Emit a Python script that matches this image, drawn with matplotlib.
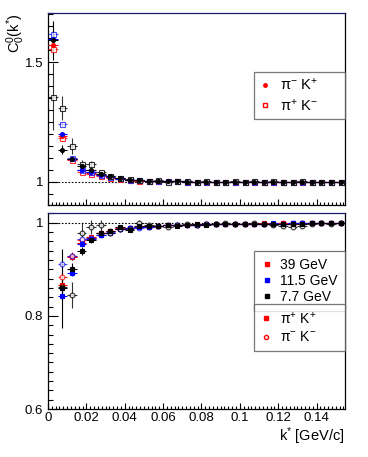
import numpy as np
import matplotlib.pyplot as plt
from matplotlib.lines import Line2D
from matplotlib.ticker import MultipleLocator

plt.rcParams['font.family'] = ['Liberation Sans', 'DejaVu Sans']
plt.rcParams['mathtext.fontset'] = 'custom'
plt.rcParams['mathtext.rm'] = 'Liberation Sans'
plt.rcParams['mathtext.it'] = 'Liberation Sans:italic'

# k* bin centres [GeV/c]
k_top = [0.0025 + 0.005 * i for i in range(31)]
k_bot = k_top[1:]

# top panel: unlike-sign pairs (filled = pi- K+, open = pi+ K-)
red_pmkp = [1.572, 1.192, 1.095, 1.048, 1.036, 1.027, 1.019, 1.013, 1.009, 1.006, 1.004,
            1.003, 1.003, 1.002, 1.002, 1.001, 1.001, 1.001, 1.000, 1.001, 1.000, 1.000,
            1.001, 1.000, 1.000, 1.000, 1.000, 1.000, 1.000, 1.000, 1.000]
red_ppkm = [1.556, 1.185, 1.092, 1.042, 1.032, 1.024, 1.017, 1.012, 1.008, 1.005, 1.004,
            1.003, 1.002, 1.002, 1.001, 1.001, 1.001, 1.000, 1.000, 1.000, 1.000, 1.000,
            1.000, 1.000, 1.000, 1.000, 1.000, 1.000, 1.000, 1.000, 1.000]
blue_pmkp = [1.598, 1.198, 1.097, 1.050, 1.040, 1.028, 1.020, 1.014, 1.010, 1.007, 1.005,
             1.003, 1.003, 1.002, 1.002, 1.001, 1.001, 1.000, 1.001, 1.000, 1.000, 1.000,
             1.000, 1.000, 1.000, 1.000, 1.000, 0.999, 1.000, 1.000, 1.000]
blue_ppkm = [1.618, 1.240, 1.098, 1.052, 1.042, 1.030, 1.022, 1.015, 1.010, 1.007, 1.004,
             1.003, 1.002, 1.002, 1.001, 1.001, 1.000, 1.000, 1.000, 1.001, 0.999, 1.000,
             0.999, 1.000, 1.000, 1.000, 0.999, 1.000, 1.000, 1.000, 0.999]
black_pmkp = [1.590, 1.135, 1.097, 1.066, 1.050, 1.033, 1.024, 1.015, 1.010, 1.008, 1.005,
              1.003, 1.002, 1.003, 1.001, 1.001, 1.001, 1.000, 1.001, 1.000, 1.001, 1.000,
              1.000, 1.001, 1.000, 1.000, 1.000, 1.001, 1.000, 1.000, 1.000]
black_ppkm = [1.355, 1.307, 1.150, 1.075, 1.075, 1.040, 1.024, 1.015, 1.012, 1.010, 1.004,
              1.007, 1.000, 1.002, 1.004, 0.998, 1.003, 1.001, 1.001, 1.002, 0.999, 1.002,
              1.001, 1.003, 0.999, 1.001, 1.002, 1.000, 0.999, 1.001, 1.000]
err_top_small = [0.012, 0.008, 0.006, 0.005, 0.004, 0.003, 0.003, 0.002, 0.002, 0.002, 0.002,
                 0.002, 0.002, 0.002, 0.002, 0.002, 0.002, 0.002, 0.002, 0.002, 0.002, 0.002,
                 0.002, 0.002, 0.002, 0.002, 0.002, 0.002, 0.002, 0.002, 0.002]
err_black_pmkp = [0.080, 0.020, 0.010, 0.008, 0.006, 0.005, 0.004, 0.003, 0.003, 0.003, 0.003,
                  0.003, 0.003, 0.003, 0.003, 0.003, 0.003, 0.003, 0.003, 0.003, 0.003, 0.003,
                  0.003, 0.003, 0.003, 0.003, 0.003, 0.003, 0.003, 0.003, 0.003]
err_black_ppkm = [0.140, 0.050, 0.035, 0.018, 0.012, 0.008, 0.006, 0.005, 0.004, 0.004, 0.004,
                  0.004, 0.004, 0.004, 0.004, 0.004, 0.004, 0.004, 0.004, 0.004, 0.004, 0.004,
                  0.004, 0.004, 0.004, 0.004, 0.004, 0.004, 0.004, 0.004, 0.004]

# bottom panel: like-sign pairs (filled = pi+ K+, open = pi- K-)
red_ppkp = [0.866, 0.927, 0.956, 0.970, 0.979, 0.983, 0.989, 0.989, 0.991, 0.993, 0.994,
            0.995, 0.996, 0.996, 0.997, 0.997, 0.997, 0.998, 0.998, 0.998, 0.998, 0.999,
            0.998, 0.999, 0.999, 0.999, 0.999, 0.999, 0.999, 0.999]
red_pmkm = [0.884, 0.929, 0.963, 0.968, 0.977, 0.982, 0.988, 0.988, 0.990, 0.992, 0.994,
            0.995, 0.995, 0.996, 0.996, 0.997, 0.997, 0.997, 0.998, 0.998, 0.998, 0.998,
            0.998, 0.999, 0.998, 0.999, 0.999, 0.999, 0.999, 0.999]
blue_ppkp = [0.843, 0.893, 0.955, 0.965, 0.974, 0.979, 0.987, 0.988, 0.990, 0.992, 0.993,
             0.995, 0.995, 0.996, 0.996, 0.997, 0.997, 0.998, 0.997, 0.998, 0.998, 0.998,
             0.999, 0.998, 0.999, 0.999, 0.999, 0.999, 0.999, 0.999]
blue_pmkm = [0.911, 0.928, 0.966, 0.967, 0.973, 0.981, 0.987, 0.988, 0.988, 0.992, 0.993,
             0.995, 0.995, 0.995, 0.996, 0.997, 0.997, 0.997, 0.998, 0.998, 0.998, 0.998,
             0.998, 0.998, 0.999, 0.999, 0.999, 0.999, 0.999, 0.999]
black_ppkp = [0.859, 0.901, 0.939, 0.962, 0.978, 0.982, 0.991, 0.985, 0.993, 0.993, 0.993,
              0.995, 0.994, 0.996, 0.997, 0.996, 0.997, 0.997, 0.998, 0.997, 0.998, 0.998,
              0.998, 0.997, 0.997, 0.998, 0.999, 0.999, 0.999, 0.999]
black_pmkm = [0.861, 0.844, 0.979, 0.991, 0.995, 0.979, 0.987, 0.987, 1.000, 0.996, 0.993,
              0.991, 0.995, 0.997, 0.996, 0.998, 0.997, 0.999, 0.998, 0.997, 0.999, 0.998,
              0.996, 0.993, 0.992, 0.993, 0.998, 0.999, 0.998, 0.999]
err_bot_small = [0.010, 0.008, 0.005, 0.004, 0.003, 0.003, 0.002, 0.002, 0.002, 0.002, 0.002,
                 0.002, 0.002, 0.002, 0.002, 0.002, 0.002, 0.002, 0.002, 0.002, 0.002, 0.002,
                 0.002, 0.002, 0.002, 0.002, 0.002, 0.002, 0.002, 0.002]
err_black_ppkp = [0.085, 0.012, 0.008, 0.005, 0.004, 0.003, 0.003, 0.003, 0.003, 0.003, 0.003,
                  0.003, 0.003, 0.003, 0.003, 0.003, 0.003, 0.003, 0.003, 0.003, 0.003, 0.003,
                  0.003, 0.003, 0.003, 0.003, 0.003, 0.003, 0.003, 0.003]
err_black_pmkm = [0.020, 0.028, 0.020, 0.016, 0.012, 0.008, 0.006, 0.005, 0.005, 0.004, 0.004,
                  0.004, 0.004, 0.004, 0.004, 0.004, 0.004, 0.004, 0.004, 0.004, 0.004, 0.004,
                  0.004, 0.004, 0.004, 0.004, 0.004, 0.004, 0.004, 0.004]

half_bin = 0.0025
RED, BLUE, BLACK = '#ff0000', '#0000ff', '#000000'

fig = plt.figure(figsize=(3.68, 4.57), dpi=100)
ax1 = fig.add_axes([0.1304, 0.5514, 0.807, 0.420])
ax2 = fig.add_axes([0.1304, 0.1050, 0.807, 0.4289])


def draw(ax, k, y, e, color, marker, filled, ms, alpha=1.0):
    ax.errorbar(k, y, yerr=e, xerr=half_bin, fmt=marker, color=color, ms=ms,
                mfc=color if filled else 'white', mec=color, mew=0.8,
                elinewidth=0.8, capsize=0, alpha=alpha, zorder=3)


for ax in (ax1, ax2):
    ax.axhline(1.0, color='black', ls=(0, (1.5, 1.5)), lw=0.8, zorder=1)

draw(ax1, k_top, red_ppkm, err_top_small, RED, 's', False, 3.6, 0.8)
draw(ax1, k_top, red_pmkp, err_top_small, RED, 'o', True, 2.8)
draw(ax1, k_top, blue_ppkm, err_top_small, BLUE, 's', False, 3.6, 0.7)
draw(ax1, k_top, blue_pmkp, err_top_small, BLUE, 'o', True, 2.8)
draw(ax1, k_top, black_ppkm, err_black_ppkm, BLACK, 's', False, 3.6, 0.8)
draw(ax1, k_top, black_pmkp, err_black_pmkp, BLACK, 'o', True, 2.8)

draw(ax2, k_bot, red_pmkm, err_bot_small, RED, 'o', False, 3.4, 0.8)
draw(ax2, k_bot, red_ppkp, err_bot_small, RED, 's', True, 3.0)
draw(ax2, k_bot, blue_pmkm, err_bot_small, BLUE, 'o', False, 3.4, 0.7)
draw(ax2, k_bot, blue_ppkp, err_bot_small, BLUE, 's', True, 3.0)
draw(ax2, k_bot, black_pmkm, err_black_pmkm, BLACK, 'o', False, 3.4, 0.8)
draw(ax2, k_bot, black_ppkp, err_black_ppkp, BLACK, 's', True, 3.0)

ax1.set_xlim(0, 0.1548)
ax2.set_xlim(0, 0.1548)
ax1.set_ylim(0.904, 1.704)
ax2.set_ylim(0.6, 1.021)

ax1.yaxis.set_major_locator(MultipleLocator(0.5))
ax1.yaxis.set_minor_locator(MultipleLocator(0.05))
ax2.yaxis.set_major_locator(MultipleLocator(0.2))
ax2.yaxis.set_minor_locator(MultipleLocator(0.02))
ax1.yaxis.set_major_formatter(lambda v, p: f'{v:g}')
ax2.yaxis.set_major_formatter(lambda v, p: f'{v:g}')
for ax in (ax1, ax2):
    ax.xaxis.set_major_locator(MultipleLocator(0.02))
    ax.xaxis.set_minor_locator(MultipleLocator(0.002))
    ax.xaxis.set_major_formatter(lambda v, p: f'{v:g}')
    ax.tick_params(which='both', direction='in', labelsize=9.5, top=False, right=False)
    ax.tick_params(axis='y', which='major', length=7, width=0.8)
    ax.tick_params(axis='y', which='minor', length=3.5, width=0.8)
    ax.tick_params(axis='x', which='major', length=4.5, width=0.8)
    ax.tick_params(axis='x', which='minor', length=2.2, width=0.8)
    for s in ax.spines.values():
        s.set_linewidth(0.9)
    ax.spines['top'].set_color('#1a1a66')
ax1.tick_params(axis='x', labelbottom=False)
ax2.tick_params(axis='x', pad=2)

ax1.set_ylabel(r'C$_{0}^{0}$(k$^{*}$)', fontsize=10.5, loc='top')
ax1.yaxis.set_label_coords(-0.072, 1.0)
ax2.set_xlabel(r'k$^{*}$ [GeV/c]', fontsize=10.5, loc='right', labelpad=1)

leg_kw = dict(frameon=True, fancybox=False, edgecolor='#555555', borderaxespad=0,
              mode='expand', loc='upper left', handlelength=0.8, handletextpad=0.6)

h_top = [Line2D([], [], ls='', marker='o', color=RED, ms=2.5),
         Line2D([], [], ls='', marker='s', mfc='white', mec=RED, ms=3.5)]
lg = ax1.legend(h_top, [r'π$^{-}$ K$^{+}$', r'π$^{+}$ K$^{-}$'],
                bbox_to_anchor=(0.694, 0.0, 0.306, 0.693), fontsize=10.5,
                labelspacing=0.3, borderpad=0.35, **leg_kw)
lg.get_frame().set_linewidth(0.9)

h_en = [Line2D([], [], ls='', marker='s', color=c, ms=2.5) for c in (RED, BLUE, BLACK)]
lg1 = ax2.legend(h_en, ['39 GeV', '11.5 GeV', '7.7 GeV'],
                 bbox_to_anchor=(0.694, 0.0, 0.306, 0.806), fontsize=10,
                 labelspacing=0.15, borderpad=0.5, **leg_kw)
lg1.get_frame().set_linewidth(0.9)
ax2.add_artist(lg1)
h_ch = [Line2D([], [], ls='', marker='s', color=RED, ms=2.5),
        Line2D([], [], ls='', marker='o', mfc='white', mec=RED, ms=3)]
lg2 = ax2.legend(h_ch, [r'π$^{+}$ K$^{+}$', r'π$^{-}$ K$^{-}$'],
                 bbox_to_anchor=(0.694, 0.0, 0.306, 0.536), fontsize=10,
                 labelspacing=0.3, borderpad=0.45, **leg_kw)
lg2.get_frame().set_linewidth(0.9)

fig.savefig('out.png', dpi=100)
